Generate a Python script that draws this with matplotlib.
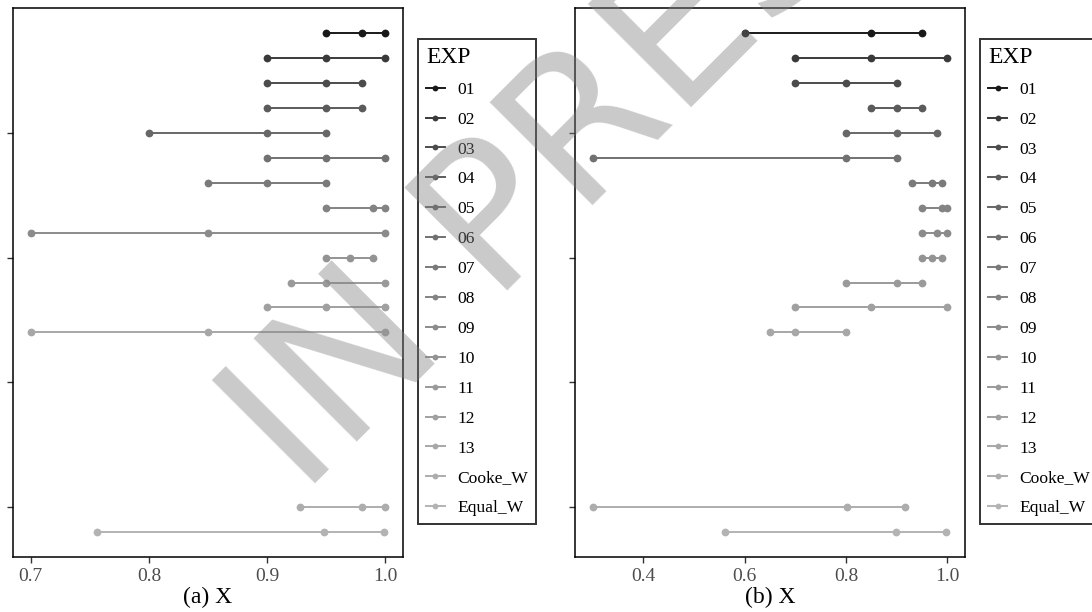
import numpy as np
import matplotlib
matplotlib.use('Agg')
import matplotlib.pyplot as plt
from matplotlib.lines import Line2D

plt.rcParams['font.family'] = ['Liberation Serif', 'DejaVu Serif']

# experts and their y slot (gap between 13 and the combined weights)
labels = ['01', '02', '03', '04', '05', '06', '07', '08', '09', '10',
          '11', '12', '13', 'Cooke_W', 'Equal_W']
ypos = [1, 2, 3, 4, 5, 6, 7, 8, 9, 10, 11, 12, 13, 20, 21]

# panel (a): low / median / high
lo_a = [0.95, 0.90, 0.90, 0.90, 0.80, 0.90, 0.85, 0.95, 0.70, 0.95, 0.92, 0.90, 0.70, 0.928, 0.756]
mid_a = [0.98, 0.95, 0.95, 0.95, 0.90, 0.95, 0.90, 0.99, 0.85, 0.97, 0.95, 0.95, 0.85, 0.98, 0.948]
hi_a = [1.00, 1.00, 0.98, 0.98, 0.95, 1.00, 0.95, 1.00, 1.00, 0.99, 1.00, 1.00, 1.00, 1.00, 0.999]

# panel (b)
lo_b = [0.60, 0.70, 0.70, 0.85, 0.80, 0.30, 0.93, 0.95, 0.95, 0.95, 0.80, 0.70, 0.65, 0.30, 0.561]
mid_b = [0.85, 0.85, 0.80, 0.90, 0.90, 0.80, 0.97, 0.99, 0.98, 0.97, 0.90, 0.85, 0.70, 0.803, 0.898]
hi_b = [0.95, 1.00, 0.90, 0.95, 0.98, 0.90, 0.99, 1.00, 1.00, 0.99, 0.95, 1.00, 0.80, 0.917, 0.998]

# grey ramp like R's grey.colors (gamma 2.2)
n = len(labels)
g = np.linspace(0.1 ** 2.2, 0.7 ** 2.2, n) ** (1 / 2.2)
colors = [(v, v, v) for v in g]

W, H = 1092, 612
fig = plt.figure(figsize=(W / 100, H / 100), dpi=100)


def panel(left, lo, mid, hi, xlim, xticks, title):
    ax = fig.add_axes([left / W, (H - 557) / H, 390 / W, 549 / H])
    for i in range(n):
        xs = [lo[i], mid[i], hi[i]]
        ax.plot(xs, [ypos[i]] * 3, color=colors[i], lw=1.4, marker='o',
                ms=5.6, mec='none', solid_capstyle='butt')
    ax.set_ylim(22, 0)
    ax.set_xlim(*xlim)
    ax.set_yticks([5, 10, 15, 20])
    ax.set_yticklabels([])
    ax.set_xticks(xticks)
    ax.set_xticklabels(['%.1f' % t for t in xticks])
    ax.tick_params(axis='both', direction='out', length=4.5, width=1.0,
                   color='#333333', labelcolor='#4d4d4d', labelsize=14)
    for s in ax.spines.values():
        s.set_linewidth(1.1)
        s.set_color('black')
    ax.set_xlabel(title, fontsize=17, labelpad=1)
    return ax


panel(13, lo_a, mid_a, hi_a, (0.685, 1.015), [0.7, 0.8, 0.9, 1.0], '(a) X')
panel(575, lo_b, mid_b, hi_b, (0.265, 1.035), [0.4, 0.6, 0.8, 1.0], '(b) X')

handles = [Line2D([], [], color=c, lw=1.4, marker='o', ms=4.2, mec='none')
           for c in colors]
for lx in (418, 980):
    leg = fig.legend(handles, labels, title='EXP', loc='upper left',
                     bbox_to_anchor=(lx / W, 1 - 39 / H), borderaxespad=0,
                     fontsize=12.6, title_fontsize=17, handlelength=1.1,
                     handletextpad=0.7, labelspacing=0.78, borderpad=0.45,
                     fancybox=False, frameon=True, alignment='left')
    leg.get_frame().set_edgecolor('black')
    leg.get_frame().set_linewidth(1.4)

# diagonal watermark over both panels
fig.text(585 / W, 1 - 136 / H, 'IN PRESS', fontsize=144, color='gray',
         alpha=0.42, rotation=45, rotation_mode='anchor', ha='center',
         va='center', family='DejaVu Sans', zorder=100)

fig.savefig('out.png', dpi=100)
